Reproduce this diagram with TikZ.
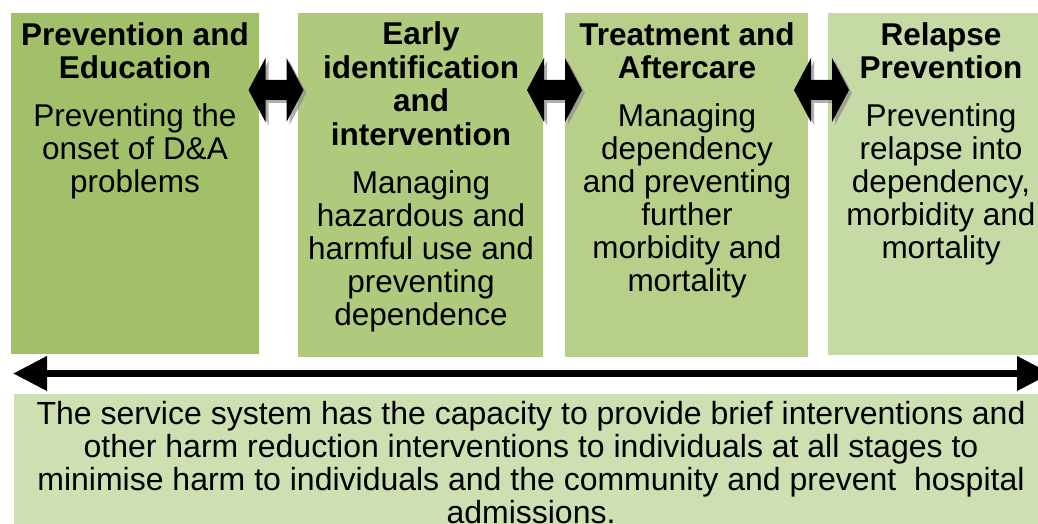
\documentclass[tikz,border=0pt]{standalone}
\usepackage{fontspec}
\setmainfont{Liberation Sans}
\usetikzlibrary{arrows.meta}
\definecolor{stageA}{HTML}{A2C06A}
\definecolor{stageB}{HTML}{AFC97D}
\definecolor{stageC}{HTML}{B8CF89}
\definecolor{stageD}{HTML}{C6DAA6}
\definecolor{baseband}{HTML}{CEDFB1}
\begin{document}
\begin{tikzpicture}[x=1pt,y=-1pt,
  panel/.style={draw=none, inner sep=0pt, anchor=north west},
  % multi-line nodes: the base anchor sits on the last line
  heading/.style={font=\fontsize{31.5}{33.5}\selectfont\bfseries, align=center, anchor=base, inner sep=0pt},
  bodytext/.style={font=\fontsize{31.5}{33}\selectfont, align=center, anchor=base, inner sep=0pt},
  twohead/.pic={
    \fill[black!45, opacity=0.7, shift={(3,3)}]
      (-27.5,0) -- (-10.5,-32) -- (-10.5,-10) -- (10.5,-10) -- (10.5,-32) -- (27.5,0)
      -- (10.5,32) -- (10.5,10) -- (-10.5,10) -- (-10.5,32) -- cycle;
    \fill[black]
      (-27.5,0) -- (-10.5,-32) -- (-10.5,-10) -- (10.5,-10) -- (10.5,-32) -- (27.5,0)
      -- (10.5,32) -- (10.5,10) -- (-10.5,10) -- (-10.5,32) -- cycle;
  },
  spanarrow/.style={line width=7pt,
    {Triangle[length=34pt,width=33pt]}-{Triangle[length=34pt,width=33pt]}}
]
\useasboundingbox (0,0) rectangle (1038,524);
\clip (0,0) rectangle (1038,524);

% four stage panels
\node[panel, fill=stageA, minimum width=248pt, minimum height=341pt] (s1) at (11,13) {};
\node[panel, fill=stageB, minimum width=245pt, minimum height=344pt] (s2) at (298,13) {};
\node[panel, fill=stageC, minimum width=243pt, minimum height=344pt] (s3) at (565,13) {};
\node[panel, fill=stageD, minimum width=226pt, minimum height=342pt] (s4) at (828,13) {};

% band along the bottom
\node[panel, fill=baseband, minimum width=1034pt, minimum height=140pt] (band) at (14,394) {};

% double-headed block arrows between the stages
\pic at (276,90) {twohead};
\pic at (554.5,90) {twohead};
\pic at (821.5,90) {twohead};

% arrow spanning all stages
\coordinate (spanL) at (13,373.5);
\coordinate (spanR) at (1051,373.5);
\draw[spanarrow] (spanL) -- (spanR);

% stage texts (positions are last-line baselines)
\node[heading] (h1) at (135,79) {Prevention and\\Education};
\node[bodytext] (t1) at (135,192) {Preventing the\\onset of D\&A\\problems};

\node[heading] (h2) at (421,145.5) {Early\\identification\\and\\intervention};
\node[bodytext] (t2) at (421,325) {Managing\\hazardous and\\harmful use and\\preventing\\dependence};

\node[heading] (h3) at (687,79) {Treatment and\\Aftercare};
\node[bodytext] (t3) at (687,291) {Managing\\dependency\\and preventing\\further\\morbidity and\\mortality};

\node[heading] (h4) at (941,79) {Relapse\\Prevention};
\node[bodytext] (t4) at (941,258) {Preventing\\relapse into\\dependency,\\morbidity and\\mortality};

\node[bodytext, font=\fontsize{32}{33}\selectfont] (note) at (531,523) {The service system has the capacity to provide brief interventions and\\other harm reduction interventions to individuals at all stages to\\minimise harm to individuals and the community and prevent\ \ hospital\\admissions.};
\end{tikzpicture}
\end{document}
